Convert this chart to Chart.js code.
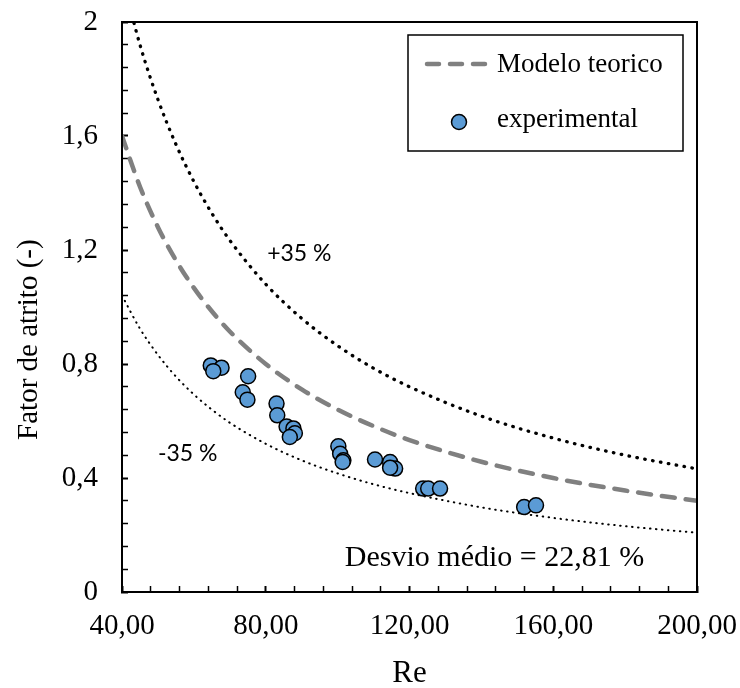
<!DOCTYPE html>
<html>
<head>
<meta charset="utf-8">
<script src="https://cdn.jsdelivr.net/npm/chart.js@4"></script>
<style>
    html, body { margin: 0; padding: 0; background: #fff; }
</style>
</head>
<body>
<canvas id="frictionChart" width="740" height="688"></canvas>
<script>
// Curvas (modelo teórico e faixa de +/-35 %)
const curveRe = [40, 45, 50, 55, 60, 65, 70, 80, 90, 100, 110, 120, 140, 160, 180, 200];
const modelF = [1.600, 1.422, 1.280, 1.164, 1.067, 0.985, 0.914, 0.800, 0.711, 0.640, 0.582, 0.533, 0.457, 0.400, 0.356, 0.320];
const upperF = [2.160, 1.920, 1.728, 1.571, 1.440, 1.329, 1.234, 1.080, 0.960, 0.864, 0.785, 0.720, 0.617, 0.540, 0.480, 0.432];
const lowerF = [1.040, 0.924, 0.832, 0.756, 0.693, 0.640, 0.594, 0.520, 0.462, 0.416, 0.378, 0.347, 0.297, 0.260, 0.231, 0.208];

// Pontos experimentais
const expRe = [64.7, 67.7, 65.4, 75.1, 73.6, 74.9, 83.0, 83.2, 85.8, 87.7, 88.1, 86.7,
               100.2, 100.7, 101.6, 101.4, 110.4, 114.6, 116.0, 114.6, 123.8, 125.2, 128.5, 151.9, 155.2];
const expF = [0.795, 0.787, 0.775, 0.757, 0.701, 0.675, 0.661, 0.620, 0.581, 0.574, 0.557, 0.544,
              0.511, 0.485, 0.462, 0.456, 0.465, 0.456, 0.433, 0.436, 0.363, 0.363, 0.363, 0.298, 0.304];

// Eixos
const xTickValues = [40, 80, 120, 160, 200];
const xTickLabels = ['40,00', '80,00', '120,00', '160,00', '200,00'];
const yTickValues = [0, 0.4, 0.8, 1.2, 1.6, 2];
const yTickLabels = ['0', '0,4', '0,8', '1,2', '1,6', '2'];

// Anotações no gráfico
const noteText = ['+35 %', '-35 %', 'Desvio médio = 22,81 %'];
const noteRe = [80.4, 50.0, 102.0];
const noteF = [1.16, 0.46, 0.09];

const SERIF = "'Liberation Serif', 'Times New Roman', serif";
const BLUE = '#5B9BD5';
const GRAY = '#808080';

function toPoints(xs, ys) {
    return xs.map((x, i) => ({ x: x, y: ys[i] }));
}

function findTick(values, v) {
    return values.findIndex(t => Math.abs(t - v) < 1e-6);
}

// moldura completa da área do gráfico
const frame = {
    id: 'frame',
    afterDatasetsDraw(chart) {
        const { ctx, chartArea: a } = chart;
        ctx.save();
        ctx.strokeStyle = '#000';
        ctx.lineWidth = 2;
        ctx.strokeRect(a.left, a.top, a.right - a.left, a.bottom - a.top);
        ctx.restore();
    }
};

const notes = {
    id: 'notes',
    afterDatasetsDraw(chart) {
        const { ctx, scales: { x, y } } = chart;
        ctx.save();
        ctx.fillStyle = '#000';
        ctx.textAlign = 'left';
        ctx.textBaseline = 'alphabetic';
        noteText.forEach((t, i) => {
            ctx.font = i < 2 ? '23px Lato' : '30px ' + SERIF;
            ctx.fillText(t, x.getPixelForValue(noteRe[i]), y.getPixelForValue(noteF[i]));
        });
        ctx.restore();
    }
};

// legenda com caixa, dentro da área do gráfico
const boxLegend = {
    id: 'boxLegend',
    afterDraw(chart) {
        const { ctx, chartArea: a } = chart;
        const left = a.right - 289;
        const top = a.top + 13;
        ctx.save();
        ctx.fillStyle = '#fff';
        ctx.fillRect(left, top, 275, 116);
        ctx.strokeStyle = '#000';
        ctx.lineWidth = 1.5;
        ctx.strokeRect(left, top, 275, 116);

        ctx.strokeStyle = GRAY;
        ctx.lineWidth = 4.5;
        ctx.lineCap = 'round';
        ctx.setLineDash([12, 11]);
        ctx.beginPath();
        ctx.moveTo(left + 19, top + 29);
        ctx.lineTo(left + 85, top + 29);
        ctx.stroke();
        ctx.setLineDash([]);

        ctx.beginPath();
        ctx.arc(left + 51, top + 87, 7.5, 0, Math.PI * 2);
        ctx.fillStyle = BLUE;
        ctx.fill();
        ctx.strokeStyle = '#000';
        ctx.lineWidth = 1.5;
        ctx.stroke();

        ctx.fillStyle = '#000';
        ctx.font = '27px ' + SERIF;
        ctx.textBaseline = 'alphabetic';
        ctx.fillText('Modelo teorico', left + 89, top + 37);
        ctx.fillText('experimental', left + 89, top + 92);
        ctx.restore();
    }
};

Chart.defaults.color = '#000';

new Chart(document.getElementById('frictionChart').getContext('2d'), {
    type: 'scatter',
    data: {
        datasets: [
            {
                label: 'experimental',
                data: toPoints(expRe, expF),
                pointRadius: 7.5,
                pointBackgroundColor: BLUE,
                pointBorderColor: '#000',
                pointBorderWidth: 1.5,
                showLine: false
            },
            {
                label: 'Modelo teorico',
                type: 'line',
                data: toPoints(curveRe, modelF),
                borderColor: GRAY,
                borderWidth: 4.5,
                borderDash: [13, 11],
                borderCapStyle: 'round',
                cubicInterpolationMode: 'monotone',
                pointRadius: 0,
                fill: false
            },
            {
                label: '+35 %',
                type: 'line',
                data: toPoints(curveRe, upperF),
                borderColor: '#000',
                borderWidth: 3.3,
                borderDash: [0.5, 7.5],
                borderCapStyle: 'round',
                cubicInterpolationMode: 'monotone',
                pointRadius: 0,
                fill: false
            },
            {
                label: '-35 %',
                type: 'line',
                data: toPoints(curveRe, lowerF),
                borderColor: '#000',
                borderWidth: 2,
                borderDash: [0.5, 5.5],
                borderCapStyle: 'round',
                cubicInterpolationMode: 'monotone',
                pointRadius: 0,
                fill: false
            }
        ]
    },
    options: {
        responsive: false,
        animation: false,
        devicePixelRatio: 1,
        layout: {
            padding: { top: 22, right: 43, bottom: 0, left: 0 }
        },
        plugins: {
            legend: { display: false },
            tooltip: { enabled: false }
        },
        scales: {
            x: {
                type: 'linear',
                min: 40,
                max: 200,
                afterFit: s => {
                    s.height = 96;
                    s.paddingLeft = 0;
                    s.paddingRight = 0;
                },
                border: { display: true, color: '#000', width: 2 },
                grid: {
                    display: true,
                    drawOnChartArea: false,
                    drawTicks: true,
                    tickLength: -6,
                    tickColor: '#000',
                    tickWidth: c => findTick(xTickValues, c.tick.value) >= 0 ? 2 : 1.5
                },
                ticks: {
                    stepSize: 8,
                    autoSkip: false,
                    maxRotation: 0,
                    padding: 23,
                    font: { family: SERIF, size: 29 },
                    callback: v => {
                        const i = findTick(xTickValues, v);
                        return i >= 0 ? xTickLabels[i] : '';
                    }
                },
                title: {
                    display: true,
                    text: 'Re',
                    font: { family: SERIF, size: 31 },
                    padding: { top: 0, bottom: -4 }
                }
            },
            y: {
                type: 'linear',
                min: 0,
                max: 2,
                afterFit: s => {
                    s.width = 122;
                    s.paddingTop = 0;
                    s.paddingBottom = 0;
                },
                border: { display: true, color: '#000', width: 2 },
                grid: {
                    display: true,
                    drawOnChartArea: false,
                    drawTicks: true,
                    tickLength: -6,
                    tickColor: '#000',
                    tickWidth: c => findTick(yTickValues, c.tick.value) >= 0 ? 2 : 1.5
                },
                ticks: {
                    stepSize: 0.08,
                    autoSkip: false,
                    padding: 30,
                    font: { family: SERIF, size: 29 },
                    callback: v => {
                        const i = findTick(yTickValues, v);
                        return i >= 0 ? yTickLabels[i] : '';
                    }
                },
                title: {
                    display: true,
                    // espaços no fim deslocam o título para baixo, como no original
                    text: 'Fator de atrito (-)' + '\u00a0'.repeat(9),
                    font: { family: SERIF, size: 29 },
                    padding: { top: 12, bottom: 0 }
                }
            }
        }
    },
    plugins: [frame, notes, boxLegend]
});
</script>
</body>
</html>
